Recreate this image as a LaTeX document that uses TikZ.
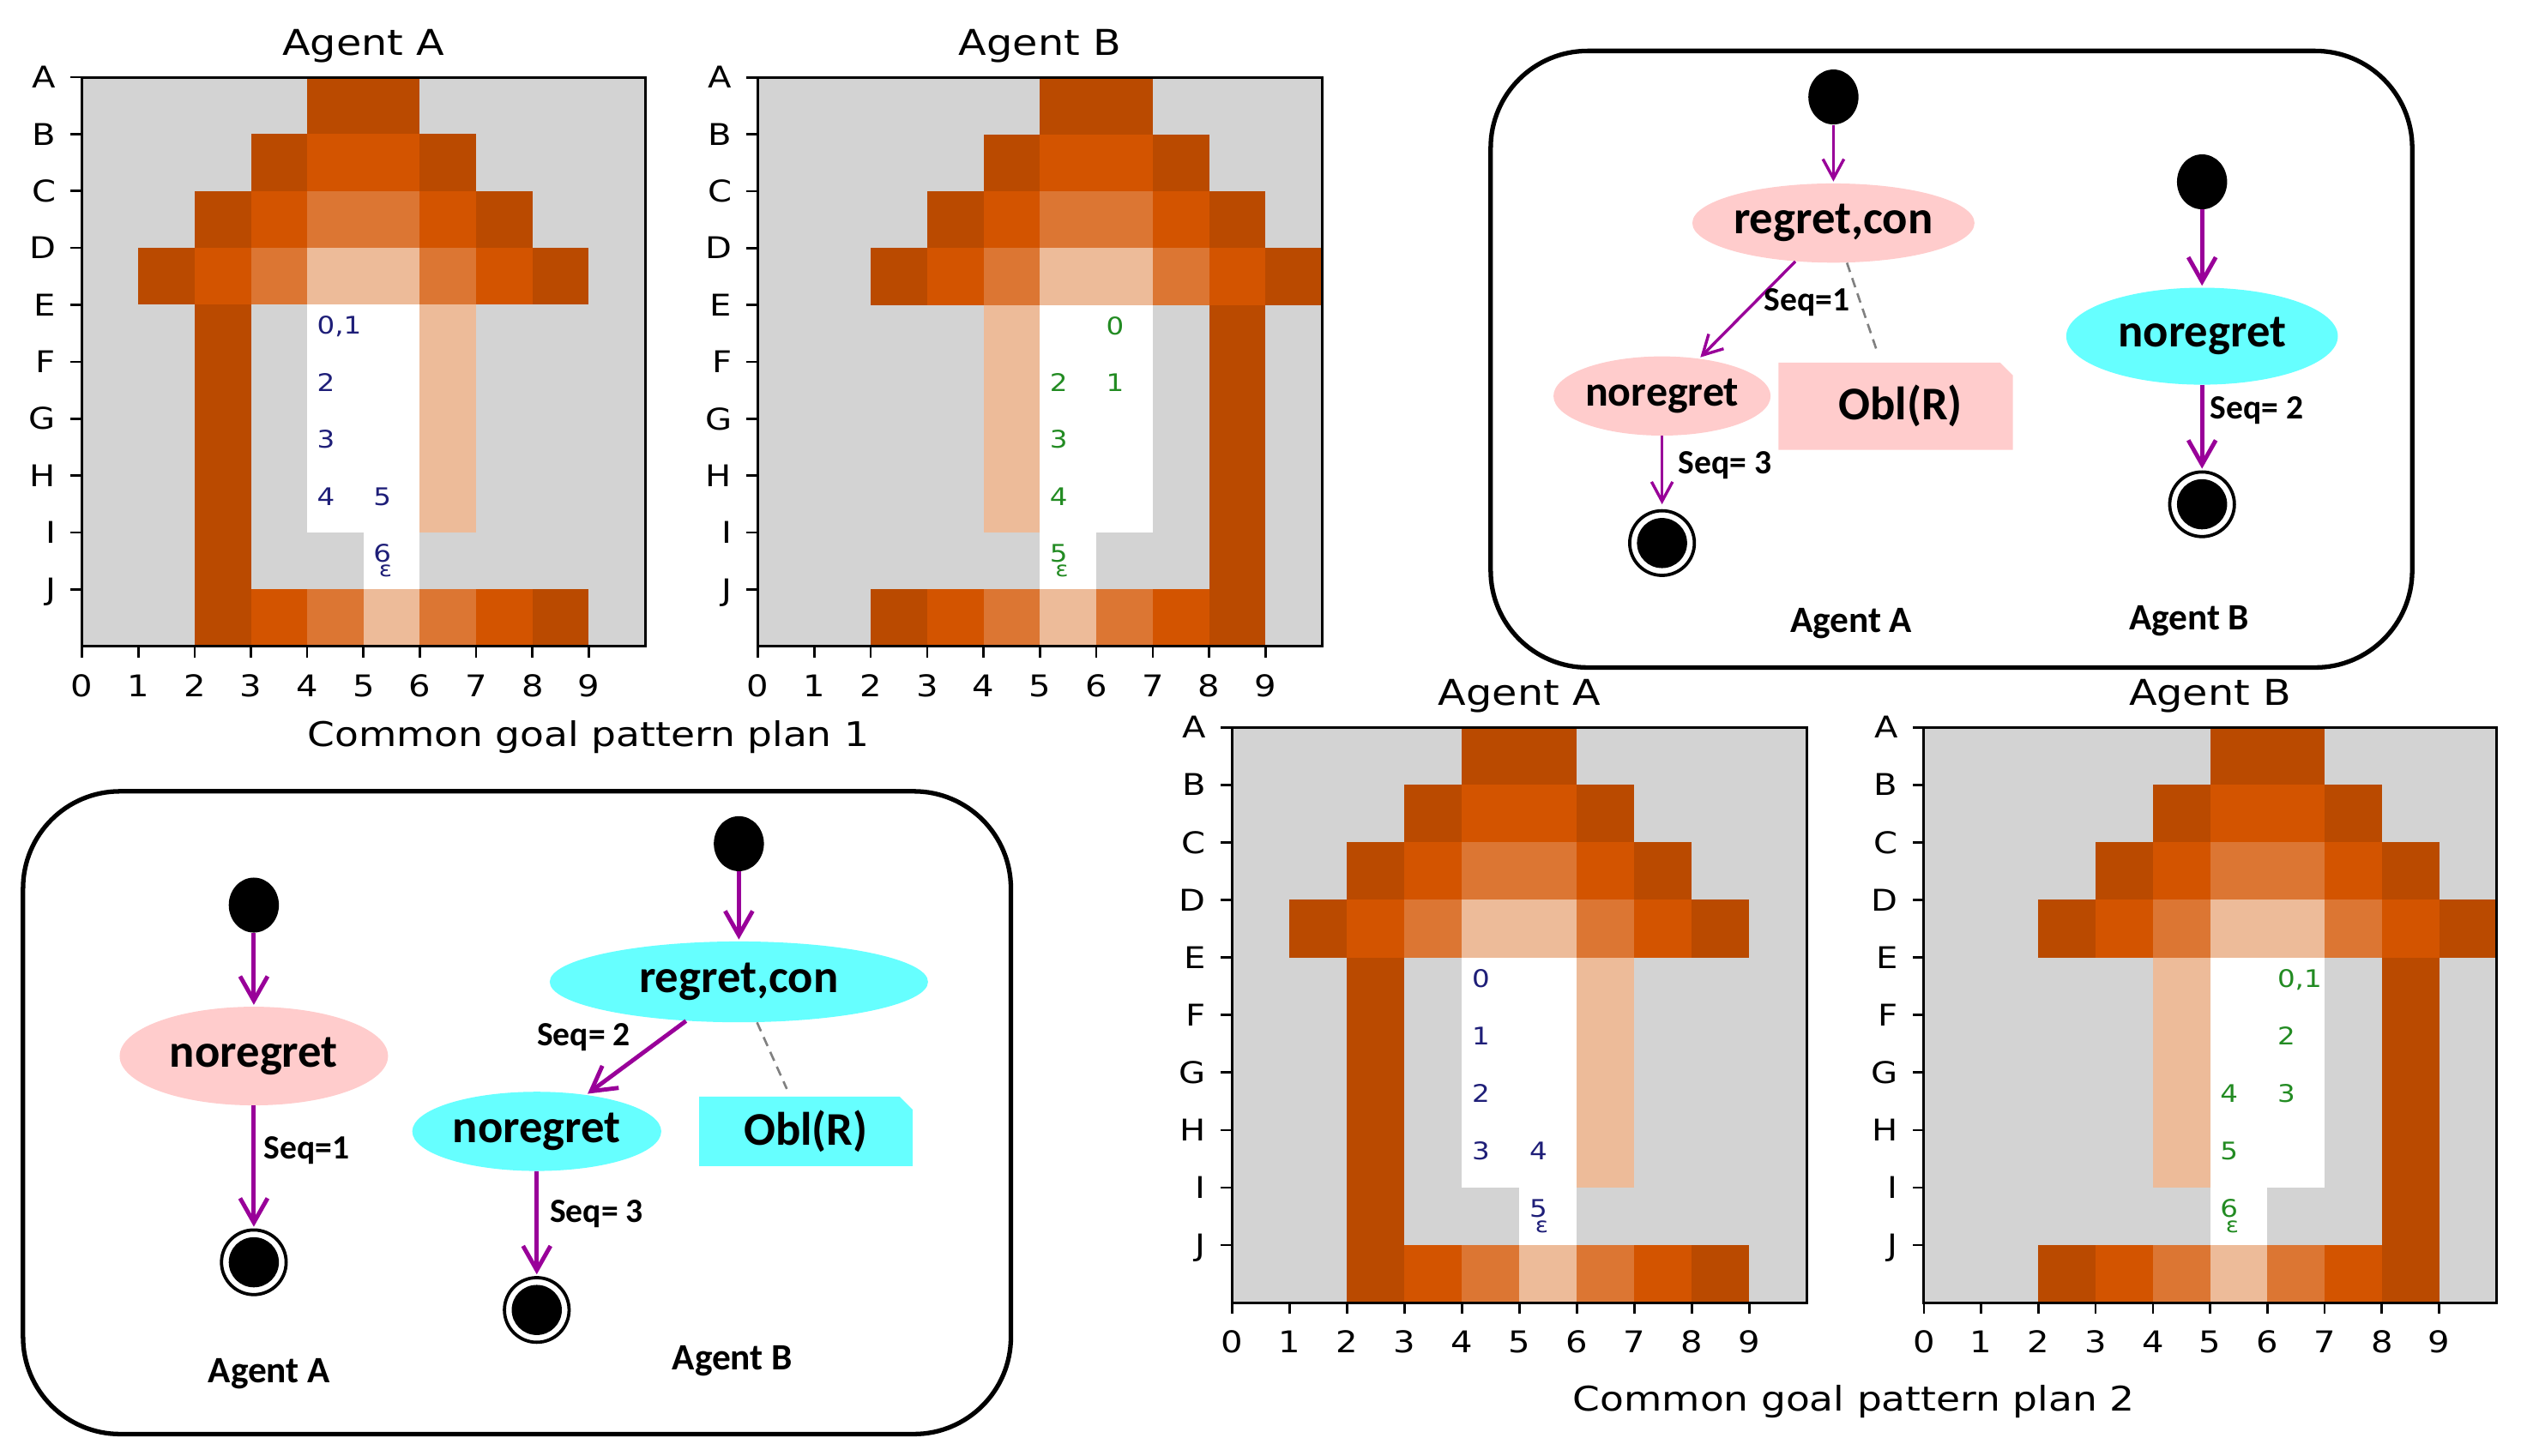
\documentclass[tikz,border=0pt]{standalone}
\usepackage{fontspec}
\setmainfont{DejaVu Sans}
\newfontfamily\mplfont{DejaVu Sans}
\newfontfamily\carlfont{Carlito}
\usetikzlibrary{arrows.meta,shapes.geometric}

\definecolor{lpg}{RGB}{211,211,211}
\definecolor{lpd}{RGB}{186,74,0}
\definecolor{lpo}{RGB}{211,84,0}
\definecolor{lpm}{RGB}{220,118,51}
\definecolor{lpl}{RGB}{237,187,153}
\definecolor{lpw}{RGB}{255,255,255}
\definecolor{navytxt}{RGB}{30,30,120}
\definecolor{greentxt}{RGB}{34,139,34}
\definecolor{pinkst}{RGB}{255,204,204}
\definecolor{cyanst}{RGB}{102,255,255}
\definecolor{purp}{RGB}{153,0,153}

\newcommand\sx[1]{\scalebox{1.15}[1]{#1}}

\def\patA{{g,g,g,g,d,d,g,g,g,g},{g,g,g,d,o,o,d,g,g,g},{g,g,d,o,m,m,o,d,g,g},{g,d,o,m,l,l,m,o,d,g},{g,g,d,g,w,w,l,g,g,g},{g,g,d,g,w,w,l,g,g,g},{g,g,d,g,w,w,l,g,g,g},{g,g,d,g,w,w,l,g,g,g},{g,g,d,g,g,w,g,g,g,g},{g,g,d,o,m,l,m,o,d,g}}
\def\patB{{g,g,g,g,g,d,d,g,g,g},{g,g,g,g,d,o,o,d,g,g},{g,g,g,d,o,m,m,o,d,g},{g,g,d,o,m,l,l,m,o,d},{g,g,g,g,l,w,w,g,d,g},{g,g,g,g,l,w,w,g,d,g},{g,g,g,g,l,w,w,g,d,g},{g,g,g,g,l,w,w,g,d,g},{g,g,g,g,g,w,g,g,d,g},{g,g,d,o,m,l,m,o,d,g}}

\tikzset{
  frame/.style={line width=1.6pt},
  tickmark/.style={line width=1.4pt},
  ticklbl/.style={font=\mplfont\fontsize{18.5}{20}\selectfont,inner sep=0},
  titlelbl/.style={font=\mplfont\fontsize{22}{24}\selectfont,inner sep=0},
  celltxt/.style={font=\mplfont\fontsize{15}{16}\selectfont,inner sep=0,anchor=base west},
  epstxt/.style={font=\mplfont\fontsize{13}{14}\selectfont,inner sep=0,anchor=base west},
  xlab/.style={font=\mplfont\fontsize{21}{23}\selectfont,inner sep=0,anchor=base west},
  panel/.style={draw=black,line width=2.8pt,rounded corners=60pt,inner sep=0},
  initst/.style={ellipse,fill=black,minimum width=31pt,minimum height=34pt,inner sep=0},
  finalst/.style={circle,draw=black,line width=2pt,minimum size=40pt,inner sep=0,
    path picture={\fill[black] (path picture bounding box.center) circle (15.5pt);}},
  stnode/.style={ellipse,inner sep=0,font=\carlfont\bfseries\fontsize{29}{30}\selectfont},
  oblbox/.style={inner sep=0,font=\carlfont\bfseries\fontsize{29}{30}\selectfont,
    path picture={\fill[#1] (path picture bounding box.south west) -- (path picture bounding box.north west)
      -- ([xshift=-8pt]path picture bounding box.north east) -- ([yshift=-8pt]path picture bounding box.north east)
      -- (path picture bounding box.south east) -- cycle;}},
  seqlbl/.style={font=\carlfont\bfseries\fontsize{21}{22}\selectfont,inner sep=0,anchor=west},
  aglbl/.style={font=\carlfont\bfseries\fontsize{23}{24}\selectfont,inner sep=0},
  trthin/.style={draw=purp,line width=1.8pt,shorten >=1pt,-{Straight Barb[length=12pt,width=13pt,line width=1.8pt]}},
  trthick/.style={draw=purp,line width=2.6pt,shorten >=1pt,-{Straight Barb[length=15pt,width=17pt,line width=2.6pt]}},
  assoc/.style={draw=gray,line width=1.4pt,dash pattern=on 6pt off 4pt,shorten >=5pt}
}

\newcommand\ct[4]{\node[celltxt,text=#4] at (#1+0.17,#2+0.52) {\sx{#3}};}
\newcommand\ce[3]{\node[epstxt,text=#3] at (#1+0.27,#2+0.78) {\sx{ε}};}

\newcommand\lampgrid[8]{%
 \begin{scope}[shift={(#2,#3)},x=#4pt,y=-#5pt]
  \foreach \rw [count=\r from 0] in #6 {
    \foreach \cc [count=\c from 0] in \rw {
      \fill[fill=lp\cc] (\c,\r) rectangle ++(1.02,1.02);
    }
  }
  \draw[frame] (0,0) rectangle (10,10);
  \foreach \lab [count=\r from 0] in {A,B,C,D,E,F,G,H,I,J} {
    \draw[tickmark] (0,\r) -- ++(-7pt,0);
    \node[ticklbl,anchor=base east] (#1r\r) at ([xshift=-16pt,yshift=-6.7pt]0,\r) {\sx{\lab}};
  }
  \foreach \c in {0,...,9} {
    \draw[tickmark] (\c,10) -- ++(0,-7pt);
    \node[ticklbl,anchor=base] (#1c\c) at ([yshift=-31pt]\c,10) {\sx{\c}};
  }
  \node[titlelbl,anchor=base] (#1t) at ([yshift=13.7pt]5,0) {\sx{#7}};
  #8
 \end{scope}}

\begin{document}
\begin{tikzpicture}[x=1pt,y=-1pt]
\useasboundingbox (0,0) rectangle (1563,900.35);

% ---------- grids ----------
\lampgrid{ga}{50.7}{47.8}{34.83}{35.2}{\patA}{Agent A}{%
  \ct{4}{4}{0,1}{navytxt}\ct{4}{5}{2}{navytxt}\ct{4}{6}{3}{navytxt}\ct{4}{7}{4}{navytxt}
  \ct{5}{7}{5}{navytxt}\ct{5}{8}{6}{navytxt}\ce{5}{8}{navytxt}}
\lampgrid{gb}{468.8}{47.9}{34.88}{35.2}{\patB}{Agent B}{%
  \ct{6}{4}{0}{greentxt}\ct{6}{5}{1}{greentxt}\ct{5}{5}{2}{greentxt}\ct{5}{6}{3}{greentxt}
  \ct{5}{7}{4}{greentxt}\ct{5}{8}{5}{greentxt}\ce{5}{8}{greentxt}}
\lampgrid{gc}{762}{450}{35.55}{35.6}{\patA}{Agent A}{%
  \ct{4}{4}{0}{navytxt}\ct{4}{5}{1}{navytxt}\ct{4}{6}{2}{navytxt}\ct{4}{7}{3}{navytxt}
  \ct{5}{7}{4}{navytxt}\ct{5}{8}{5}{navytxt}\ce{5}{8}{navytxt}}
\lampgrid{gd}{1190}{450}{35.4}{35.6}{\patB}{Agent B}{%
  \ct{6}{4}{0,1}{greentxt}\ct{6}{5}{2}{greentxt}\ct{6}{6}{3}{greentxt}\ct{5}{6}{4}{greentxt}
  \ct{5}{7}{5}{greentxt}\ct{5}{8}{6}{greentxt}\ce{5}{8}{greentxt}}

\node[xlab] (xl1) at (190,462) {\sx{Common goal pattern plan 1}};
\node[xlab] (xl2) at (972.7,873) {\sx{Common goal pattern plan 2}};

% ---------- top-right panel ----------
\node[panel,minimum width=570pt,minimum height=381.5pt] (boxTR) at (1207,222.25) {};
\node[initst] (iA) at (1134,60) {};
\node[stnode,fill=pinkst,minimum width=172pt,minimum height=49pt] (rcA) at (1134,138) {regret,con};
\node[stnode,fill=pinkst,minimum width=115pt,minimum height=49pt,font=\carlfont\bfseries\fontsize{26.5}{28}\selectfont] (nrA) at (1028,245) {noregret};
\node[oblbox=pinkst,minimum width=145pt,minimum height=54pt] (oblA) at (1172.5,251.3) {\hspace{6pt}Obl(R)};
\node[finalst] (fA) at (1028,336) {};
\draw[trthin] (iA) -- (rcA);
\draw[trthin] (rcA) -- (nrA);
\draw[assoc] (rcA) -- (oblA);
\draw[trthin,shorten >=3pt] (nrA) -- (fA);
\node[seqlbl] (sq1A) at (1091,187) {Seq=1};
\node[seqlbl] (sq3A) at (1038,288) {Seq= 3};
\node[aglbl] (agA1) at (1145,386) {Agent A};

\node[initst] (iB) at (1362,112.5) {};
\node[stnode,fill=cyanst,minimum width=168pt,minimum height=60pt] (nrB) at (1362,208) {noregret};
\node[finalst] (fB) at (1362,312) {};
\draw[trthick] (iB) -- (nrB);
\draw[trthick] (nrB) -- (fB);
\node[seqlbl] (sq2B) at (1367,254) {Seq= 2};
\node[aglbl] (agB1) at (1354,384) {Agent B};

% ---------- bottom-left panel ----------
\node[panel,minimum width=611pt,minimum height=397.7pt] (boxBL) at (319.75,688.45) {};
\node[initst] (iA2) at (157,560) {};
\node[stnode,fill=pinkst,minimum width=166pt,minimum height=61pt] (nrA2) at (157,653.4) {noregret};
\node[finalst] (fA2) at (157,781) {};
\draw[trthick] (iA2) -- (nrA2);
\draw[trthick] (nrA2) -- (fA2);
\node[seqlbl] (sq1A2) at (163,712) {Seq=1};
\node[aglbl] (agA2) at (166.5,850) {Agent A};

\node[initst] (iB2) at (457,522) {};
\node[stnode,fill=cyanst,minimum width=234pt,minimum height=50pt] (rcB2) at (457,607.5) {regret,con};
\node[stnode,fill=cyanst,minimum width=154pt,minimum height=49pt] (nrB2) at (332,700) {noregret};
\node[oblbox=cyanst,minimum width=132pt,minimum height=43pt] (oblB2) at (498.4,700) {Obl(R)};
\node[finalst] (fB2) at (332,810.5) {};
\draw[trthick] (iB2) -- (rcB2);
\draw[trthick] (rcB2) -- (nrB2);
\draw[assoc] (rcB2) -- (oblB2);
\draw[trthick] (nrB2) -- (fB2);
\node[seqlbl] (sq2B2) at (332,642) {Seq= 2};
\node[seqlbl] (sq3B2) at (340,751) {Seq= 3};
\node[aglbl] (agB2) at (453,842) {Agent B};
\end{tikzpicture}
\end{document}
